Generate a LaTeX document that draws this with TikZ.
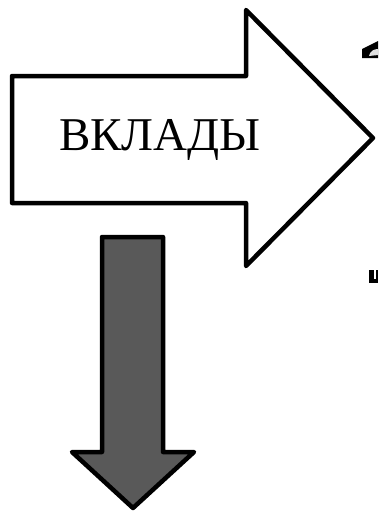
\documentclass[tikz,border=0pt]{standalone}
\usepackage{fontspec}
\setmainfont{Liberation Serif}
\usetikzlibrary{positioning}

\begin{document}
\begin{tikzpicture}[x=1pt, y=-1pt,
        arrowbox/.style={draw, line width=4.5pt, line join=round},
        label/.style={font=\fontsize{47}{47}\selectfont, inner sep=0pt}]
                \useasboundingbox (0,0) rectangle (378,514);

                % big arrow to the right
                \draw[arrowbox, fill=white] (12,76) -- (246,76) -- (246,10) -- (373,138)
                        -- (246,266) -- (246,203) -- (12,203) -- cycle;
                \node[label] (V) at (160,140) {ВКЛАДЫ};

                % grey arrow down
                \draw[arrowbox, fill=black!65] (102,237) -- (163,237) -- (163,452) -- (194,452)
                        -- (133,508) -- (72,452) -- (102,452) -- cycle;

                % cut off bits at the right edge
                \fill[black] (362,49) -- (378,41) -- (378,58) -- (362,58) -- cycle;
                \fill[black!12] (369,56) .. controls (370,51) and (374,49) .. (378,49) -- (378,55) -- cycle;
                \fill[black] (369,270) rectangle (374,283);
                \fill[black] (369,279) rectangle (378,283);
                \fill[black] (376,270) rectangle (378,283);
            \end{tikzpicture}
\end{document}
